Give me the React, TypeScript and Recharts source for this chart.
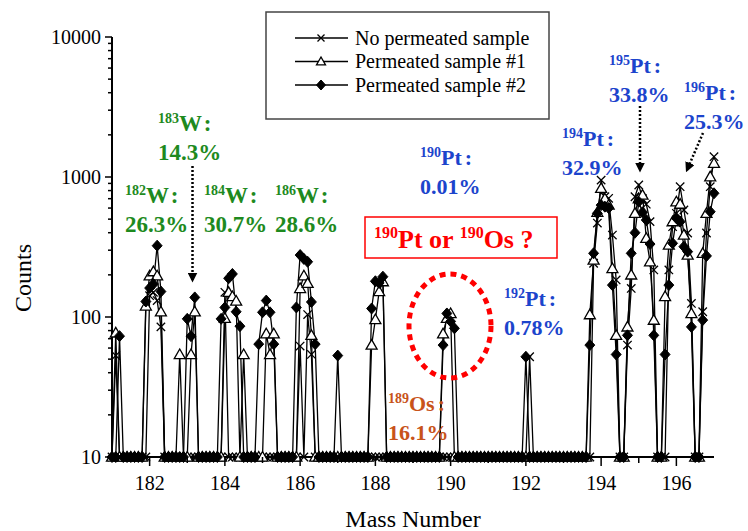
import React from 'react';
import { LineChart, Line, XAxis, YAxis } from 'recharts';

// Mass number grid (amu)
const MASS = [
  181.0, 181.1, 181.2, 181.3, 181.4, 181.5, 181.6, 181.7, 181.8, 181.9,
  182.0, 182.1, 182.2, 182.3, 182.4, 182.5, 182.6, 182.7, 182.8, 182.9,
  183.0, 183.1, 183.2, 183.3, 183.4, 183.5, 183.6, 183.7, 183.8, 183.9,
  184.0, 184.1, 184.2, 184.3, 184.4, 184.5, 184.6, 184.7, 184.8, 184.9,
  185.0, 185.1, 185.2, 185.3, 185.4, 185.5, 185.6, 185.7, 185.8, 185.9,
  186.0, 186.1, 186.2, 186.3, 186.4, 186.5, 186.6, 186.7, 186.8, 186.9,
  187.0, 187.1, 187.2, 187.3, 187.4, 187.5, 187.6, 187.7, 187.8, 187.9,
  188.0, 188.1, 188.2, 188.3, 188.4, 188.5, 188.6, 188.7, 188.8, 188.9,
  189.0, 189.1, 189.2, 189.3, 189.4, 189.5, 189.6, 189.7, 189.8, 189.9,
  190.0, 190.1, 190.2, 190.3, 190.4, 190.5, 190.6, 190.7, 190.8, 190.9,
  191.0, 191.1, 191.2, 191.3, 191.4, 191.5, 191.6, 191.7, 191.8, 191.9,
  192.0, 192.1, 192.2, 192.3, 192.4, 192.5, 192.6, 192.7, 192.8, 192.9,
  193.0, 193.1, 193.2, 193.3, 193.4, 193.5, 193.6, 193.7, 193.8, 193.9,
  194.0, 194.1, 194.2, 194.3, 194.4, 194.5, 194.6, 194.7, 194.8, 194.9,
  195.0, 195.1, 195.2, 195.3, 195.4, 195.5, 195.6, 195.7, 195.8, 195.9,
  196.0, 196.1, 196.2, 196.3, 196.4, 196.5, 196.6, 196.7, 196.8, 196.9,
  197.0,
];

// Counts, No permeated sample (x markers)
const NO_PERMEATED = [
  10, 53, 10, 10, 10, 10, 10, 10, 10, 10,
  142, 150, 131, 85, 10, 10, 10, 10, 10, 10,
  10, 10, 10, 10, 10, 10, 10, 10, 10, 10,
  150, 10, 10, 10, 10, 10, 10, 10, 10, 10,
  10, 10, 10, 10, 10, 10, 10, 10, 10, 10,
  62, 10, 104, 54, 10, 10, 10, 10, 10, 10,
  10, 10, 10, 10, 10, 10, 10, 10, 10, 10,
  10, 10, 10, 10, 10, 10, 10, 10, 10, 10,
  10, 10, 10, 10, 10, 10, 10, 10, 10, 10,
  10, 10, 10, 10, 10, 10, 10, 10, 10, 10,
  10, 10, 10, 10, 10, 10, 10, 10, 10, 10,
  10, 52, 10, 10, 10, 10, 10, 10, 10, 10,
  10, 10, 10, 10, 10, 10, 10, 10, 242, 469,
  950, 723, 704, 385, 184, 10, 10, 63, 160, 723,
  877, 700, 640, 480, 217, 10, 10, 10, 217, 442,
  550, 853, 581, 398, 125, 10, 10, 109, 398, 853,
  1397,
];

// Counts, Permeated sample #1 (open triangles)
const PERMEATED_1 = [
  10, 77, 10, 10, 10, 10, 10, 10, 10, 120,
  197, 211, 197, 109, 10, 10, 10, 10, 54, 10,
  10, 54, 109, 10, 10, 10, 10, 10, 10, 10,
  98, 150, 140, 130, 10, 54, 10, 10, 10, 10,
  10, 76, 54, 76, 10, 10, 10, 10, 10, 10,
  160, 197, 174, 74, 10, 10, 10, 10, 10, 10,
  10, 10, 10, 10, 10, 10, 10, 10, 10, 63,
  96, 152, 179, 10, 10, 10, 10, 10, 10, 10,
  10, 10, 10, 10, 10, 10, 10, 10, 76, 98,
  106, 10, 10, 10, 10, 10, 10, 10, 10, 10,
  10, 10, 10, 10, 10, 10, 10, 10, 10, 10,
  10, 10, 10, 10, 10, 10, 10, 10, 10, 10,
  10, 10, 10, 10, 10, 10, 10, 104, 255, 560,
  830, 700, 630, 222, 74, 10, 10, 85, 200, 550,
  700, 743, 365, 248, 95, 10, 10, 140, 327, 480,
  666, 640, 385, 277, 106, 10, 10, 285, 550, 1005,
  1254,
];

// Counts, Permeated sample #2 (filled diamonds)
const PERMEATED_2 = [
  10, 10, 73, 10, 10, 10, 10, 10, 10, 129,
  161, 172, 323, 152, 10, 10, 10, 10, 10, 10,
  97, 73, 138, 10, 10, 10, 10, 10, 10, 97,
  117, 189, 203, 109, 86, 10, 10, 10, 10, 64,
  108, 131, 108, 64, 10, 10, 10, 10, 10, 117,
  277, 260, 248, 128, 64, 10, 10, 10, 10, 10,
  53, 10, 10, 10, 10, 10, 10, 10, 10, 115,
  180, 175, 194, 10, 10, 10, 10, 10, 10, 10,
  10, 10, 10, 10, 10, 10, 10, 10, 63, 106,
  93, 83, 10, 10, 10, 10, 10, 10, 10, 10,
  10, 10, 10, 10, 10, 10, 10, 10, 10, 10,
  52, 10, 10, 10, 10, 10, 10, 10, 10, 10,
  10, 10, 10, 10, 10, 10, 10, 63, 285, 550,
  630, 614, 600, 169, 54, 10, 10, 74, 285, 400,
  666, 560, 493, 332, 74, 10, 10, 54, 169, 336,
  507, 480, 318, 293, 85, 10, 10, 95, 273, 565,
  765,
];

const SERIES_NAMES = ['No permeated sample', 'Permeated sample #1', 'Permeated sample #2'];

const X_TICKS = [182, 183, 184, 185, 186, 187, 188, 189, 190, 191, 192, 193, 194, 195, 196];
const X_LABELED = [182, 184, 186, 188, 190, 192, 194, 196];
const Y_TICKS = [
  10, 20, 30, 40, 50, 60, 70, 80, 90,
  100, 200, 300, 400, 500, 600, 700, 800, 900,
  1000, 2000, 3000, 4000, 5000, 6000, 7000, 8000, 9000,
  10000,
];
const Y_LABELED = [10, 100, 1000, 10000];

const data = MASS.map((m, i) => ({
  m,
  a: NO_PERMEATED[i],
  b: PERMEATED_1[i],
  c: PERMEATED_2[i],
}));

const SERIF = '"Liberation Serif", "Times New Roman", serif';
const GREEN = '#1e8a1e';
const BLUE = '#1c44cc';
const ORANGE = '#c8531a';
const RED = '#ff0000';

const TS = 6;
const TM = 4;

const Cross = ({ cx, cy, s = 4.2 }: any) => (
  <path
    d={`M${cx - s},${cy - s}L${cx + s},${cy + s}M${cx - s},${cy + s}L${cx + s},${cy - s}`}
    stroke="#000"
    strokeWidth={1.3}
    fill="none"
  />
);
const Tri = ({ cx, cy, s = 5.5 }: any) => (
  <polygon
    points={`${cx},${cy - s} ${cx - s},${cy + s * 0.75} ${cx + s},${cy + s * 0.75}`}
    fill="#fff"
    stroke="#000"
    strokeWidth={1.3}
  />
);
const Diamond = ({ cx, cy, s = 5.5 }: any) => (
  <polygon
    points={`${cx},${cy - s} ${cx + s * 0.9},${cy} ${cx},${cy + s} ${cx - s * 0.9},${cy}`}
    fill="#000"
    stroke="#000"
    strokeWidth={1}
  />
);

const YTick = (props: any) => {
  const { x, y, payload } = props;
  const ax = x + TS + TM;
  const major = Y_LABELED.includes(payload.value);
  return (
    <g>
      <line x1={ax} x2={ax - (major ? 7 : 4)} y1={y} y2={y} stroke="#000" strokeWidth={1.5} />
      {major && (
        <text x={ax - 11} y={y} dy="0.35em" textAnchor="end" fontSize={20} fontFamily={SERIF} fill="#000">
          {payload.value}
        </text>
      )}
    </g>
  );
};

const XTick = (props: any) => {
  const { x, y, payload } = props;
  const ay = y - TS - TM;
  const major = X_LABELED.includes(payload.value);
  return (
    <g>
      <line x1={x} x2={x} y1={ay} y2={ay + (major ? 9 : 6)} stroke="#000" strokeWidth={1.5} />
      {major && (
        <text x={x} y={ay + 33} textAnchor="middle" fontSize={20} fontFamily={SERIF} fill="#000">
          {payload.value}
        </text>
      )}
    </g>
  );
};

const Iso = ({ x, y, mass, sym, pct, color, fs = 23 }: any) => (
  <g fontFamily={SERIF} fontWeight="bold" fill={color}>
    <text x={x} y={y}>
      <tspan fontSize={14} dy={-8}>{mass}</tspan>
      <tspan fontSize={fs} dy={8}>{sym}</tspan>
      <tspan fontSize={fs} dx={3}>:</tspan>
    </text>
    <text x={x} y={y + 29} fontSize={fs}>{pct}</text>
  </g>
);

const Arrow = ({ x1, y1, x2, y2 }: any) => (
  <line x1={x1} y1={y1} x2={x2} y2={y2} stroke="#000" strokeWidth={2.5} strokeDasharray="2 2" markerEnd="url(#ah)" />
);

const Overlay = () => (
  <svg
    width={748}
    height={531}
    style={{ position: 'absolute', left: 0, top: 0, pointerEvents: 'none' }}
  >
    <defs>
      <marker id="ah" markerWidth="4" markerHeight="4" refX="3" refY="2" orient="auto" markerUnits="strokeWidth">
        <path d="M0,0 L4,2 L0,4 z" fill="#000" />
      </marker>
    </defs>

    {/* Legend */}
    <rect x={266} y={12} width={283} height={107} fill="#fff" stroke="#444" strokeWidth={1.5} />
    {SERIES_NAMES.map((name, i) => {
      const yy = 38 + i * 23.5;
      return (
        <g key={name}>
          <line x1={295} x2={348} y1={yy} y2={yy} stroke="#000" strokeWidth={1.3} />
          {i === 0 && <Cross cx={321} cy={yy} s={3.5} />}
          {i === 1 && <Tri cx={321} cy={yy} s={4.5} />}
          {i === 2 && <Diamond cx={321} cy={yy} s={5} />}
          <text x={355} y={yy + 6.5} fontSize={20} fontFamily={SERIF} fill="#000">
            {name}
          </text>
        </g>
      );
    })}

    {/* Axis titles */}
    <text x={413} y={527} textAnchor="middle" fontSize={24} fontFamily={SERIF} fill="#000">
      Mass Number
    </text>
    <text
      x={0}
      y={0}
      transform="translate(31,278) rotate(-90)"
      textAnchor="middle"
      fontSize={24}
      fontFamily={SERIF}
      fill="#000"
    >
      Counts
    </text>

    {/* W annotations */}
    <Iso x={158} y={131} mass="183" sym="W" pct="14.3%" color={GREEN} />
    <Iso x={125} y={203} mass="182" sym="W" pct="26.3%" color={GREEN} />
    <Iso x={204} y={203} mass="184" sym="W" pct="30.7%" color={GREEN} />
    <Iso x={275} y={203} mass="186" sym="W" pct="28.6%" color={GREEN} />
    <Arrow x1={192.5} y1={166} x2={192.5} y2={280} />

    {/* Pt / Os annotations */}
    <Iso x={420} y={165} mass="190" sym="Pt" pct="0.01%" color={BLUE} fs={22} />
    <Iso x={504} y={306} mass="192" sym="Pt" pct="0.78%" color={BLUE} fs={22} />
    <Iso x={388} y={411} mass="189" sym="Os" pct="16.1%" color={ORANGE} fs={22} />
    <Iso x={562} y={146} mass="194" sym="Pt" pct="32.9%" color={BLUE} fs={22} />
    <Iso x={609} y={73} mass="195" sym="Pt" pct="33.8%" color={BLUE} fs={22} />
    <Iso x={684} y={100} mass="196" sym="Pt" pct="25.3%" color={BLUE} fs={22} />
    <Arrow x1={640} y1={106} x2={640} y2={170} />
    <Arrow x1={703} y1={133} x2={687} y2={170} />

    {/* Question box */}
    <rect x={365} y={217} width={192} height={41} fill="#fff" stroke={RED} strokeWidth={1.5} />
    <text x={374} y={248} fontFamily={SERIF} fontWeight="bold" fill={RED}>
      <tspan fontSize={16} dy={-10}>190</tspan>
      <tspan fontSize={26} dy={10}>Pt or </tspan>
      <tspan fontSize={16} dy={-10}>190</tspan>
      <tspan fontSize={26} dy={10}>Os  ?</tspan>
    </text>

    {/* Dotted ellipse */}
    <ellipse cx={450} cy={326} rx={41} ry={52} fill="none" stroke={RED} strokeWidth={5} strokeDasharray="6 5" />
  </svg>
);

export default function App() {
  return (
    <div style={{ position: 'absolute', left: 0, top: 0, width: 748, height: 531, background: '#fff' }}>
      <LineChart
        width={748}
        height={531}
        data={data}
        margin={{ top: 37, right: 34, bottom: 34, left: 52 }}
      >
        <XAxis
          dataKey="m"
          type="number"
          domain={[181, 197]}
          ticks={X_TICKS}
          interval={0}
          height={40}
          tickSize={TS}
          tickMargin={TM}
          tickLine={false}
          tick={<XTick />}
          axisLine={{ stroke: '#000', strokeWidth: 2 }}
        />
        <YAxis
          type="number"
          scale="log"
          domain={[10, 10000]}
          ticks={Y_TICKS}
          interval={0}
          width={60}
          tickSize={TS}
          tickMargin={TM}
          tickLine={false}
          tick={<YTick />}
          axisLine={{ stroke: '#000', strokeWidth: 2 }}
        />
        <Line
          dataKey="a"
          name={SERIES_NAMES[0]}
          type="linear"
          stroke="#000"
          strokeWidth={1.3}
          isAnimationActive={false}
          activeDot={false}
          dot={(p: any) => <Cross key={`a${p.index}`} cx={p.cx} cy={p.cy} />}
        />
        <Line
          dataKey="b"
          name={SERIES_NAMES[1]}
          type="linear"
          stroke="#000"
          strokeWidth={1.3}
          isAnimationActive={false}
          activeDot={false}
          dot={(p: any) => <Tri key={`b${p.index}`} cx={p.cx} cy={p.cy} />}
        />
        <Line
          dataKey="c"
          name={SERIES_NAMES[2]}
          type="linear"
          stroke="#000"
          strokeWidth={1.3}
          isAnimationActive={false}
          activeDot={false}
          dot={(p: any) => <Diamond key={`c${p.index}`} cx={p.cx} cy={p.cy} />}
        />
      </LineChart>
      <Overlay />
    </div>
  );
}
